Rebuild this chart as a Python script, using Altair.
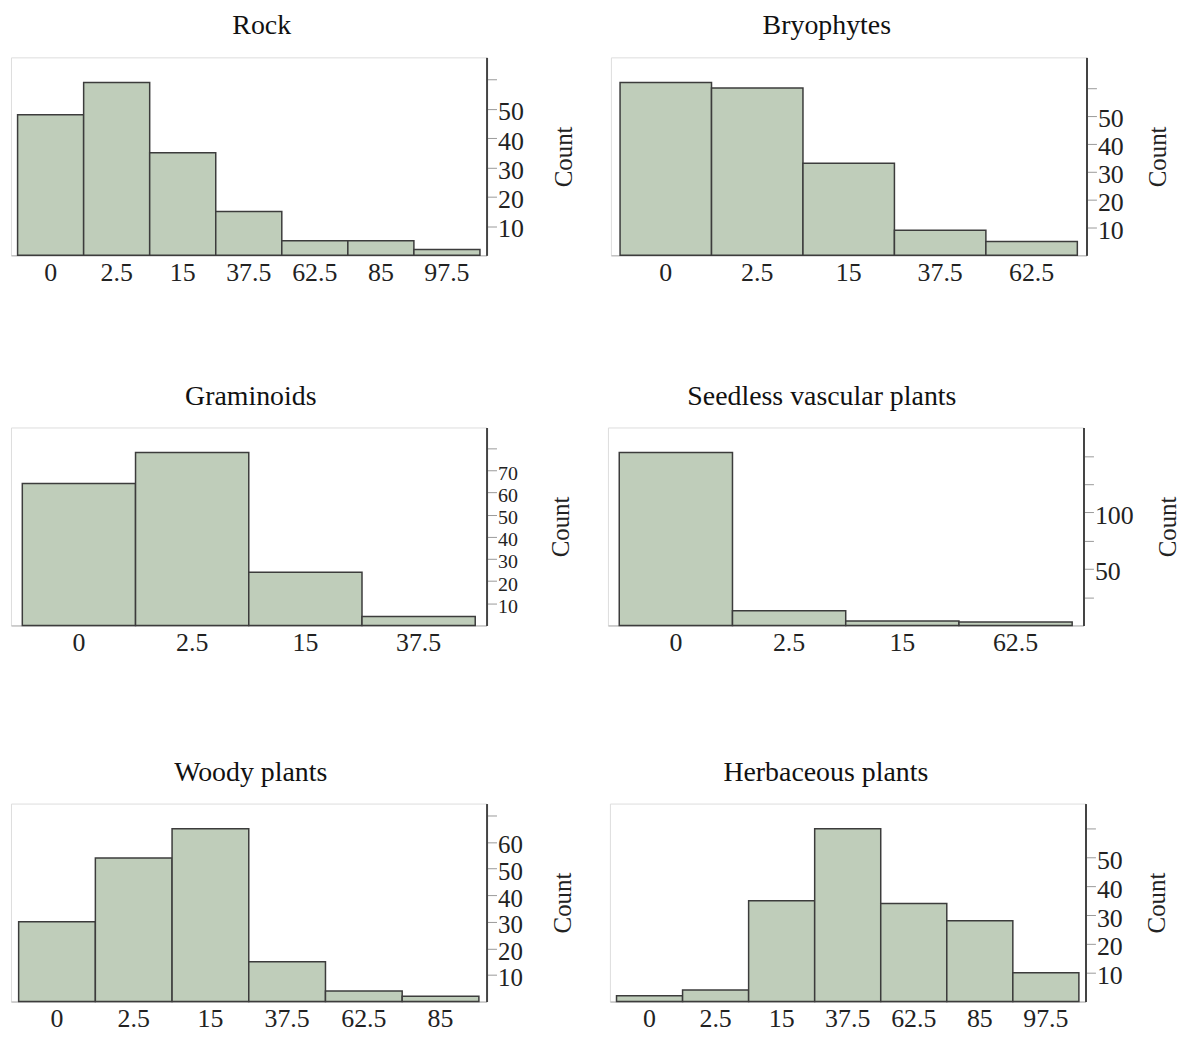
import altair as alt
import pandas as pd

# ---- data ----
rock_bins = ["0", "2.5", "15", "37.5", "62.5", "85", "97.5"]
rock_counts = [48, 59, 35, 15, 5, 5, 2]

bryo_bins = ["0", "2.5", "15", "37.5", "62.5"]
bryo_counts = [62, 60, 33, 9, 5]

gram_bins = ["0", "2.5", "15", "37.5"]
gram_counts = [64, 78, 24, 4]

seed_bins = ["0", "2.5", "15", "62.5"]
seed_counts = [153, 13, 4, 3]

woody_bins = ["0", "2.5", "15", "37.5", "62.5", "85"]
woody_counts = [30, 54, 65, 15, 4, 2]

herb_bins = ["0", "2.5", "15", "37.5", "62.5", "85", "97.5"]
herb_counts = [2, 4, 35, 60, 34, 28, 10]

# y-axis ticks (all ticks) and the subset that carries a label
rock_ticks, rock_labels = [10, 20, 30, 40, 50, 60], [10, 20, 30, 40, 50]
bryo_ticks, bryo_labels = [10, 20, 30, 40, 50, 60], [10, 20, 30, 40, 50]
gram_ticks, gram_labels = [10, 20, 30, 40, 50, 60, 70, 80], [10, 20, 30, 40, 50, 60, 70]
seed_ticks, seed_labels = [25, 50, 75, 100, 125, 150], [50, 100]
woody_ticks, woody_labels = [10, 20, 30, 40, 50, 60, 70], [10, 20, 30, 40, 50, 60]
herb_ticks, herb_labels = [10, 20, 30, 40, 50, 60], [10, 20, 30, 40, 50]

FONT = "Liberation Serif"
FILL = "#bfcdba"
W, H = 478, 199


def panel(title, bins, counts, ticks, labels, dx=0, ylab=26, tpad=28):
    df = pd.DataFrame({"bin": bins, "count": counts})
    top = max(counts) * 1.145
    expr = "indexof(" + str(labels) + ", datum.value) >= 0 ? datum.label : ''"
    return (
        alt.Chart(df)
        .mark_bar(fill=FILL, stroke="#3c3c3c", strokeWidth=1.5)
        .encode(
            x=alt.X(
                "bin:N",
                sort=bins,
                scale=alt.Scale(paddingInner=0, paddingOuter=0.1),
                axis=alt.Axis(
                    title=None,
                    labelAngle=0,
                    ticks=False,
                    domainColor="#b0b0b0",
                    labelFont=FONT,
                    labelFontSize=26,
                    labelColor="#222222",
                    labelPadding=4,
                    labelOverlap=False,
                ),
            ),
            y=alt.Y(
                "count:Q",
                scale=alt.Scale(domain=[0, top], nice=False),
                axis=alt.Axis(
                    orient="right",
                    title="Count",
                    titleAngle=270,
                    titleBaseline="top",
                    titleFont=FONT,
                    titleFontSize=25,
                    titleFontWeight="normal",
                    titleColor="#222222",
                    titlePadding=tpad,
                    values=ticks,
                    labelExpr=expr,
                    labelFont=FONT,
                    labelFontSize=ylab,
                    labelColor="#222222",
                    labelPadding=1,
                    labelOffset=3,
                    labelOverlap=False,
                    labelBound=False,
                    grid=False,
                    domainColor="#444444",
                    domainWidth=2,
                    tickColor="#999999",
                    tickSize=10,
                ),
            ),
        )
        .properties(
            width=W,
            height=H,
            title=alt.TitleParams(
                title, font=FONT, fontSize=28, fontWeight="normal",
                color="#111111", offset=17, dx=dx,
            ),
        )
    )


row1 = alt.hconcat(
    panel("Rock", rock_bins, rock_counts, rock_ticks, rock_labels, dx=13),
    panel("Bryophytes", bryo_bins, bryo_counts, bryo_ticks, bryo_labels, dx=-22, tpad=22),
    spacing=33,
)
row2 = alt.hconcat(
    panel("Graminoids", gram_bins, gram_counts, gram_ticks, gram_labels, dx=2, ylab=20, tpad=31),
    panel("Seedless vascular plants", seed_bins, seed_counts, seed_ticks, seed_labels, dx=-24, tpad=22),
    spacing=33,
)
row3 = alt.hconcat(
    panel("Woody plants", woody_bins, woody_counts, woody_ticks, woody_labels, dx=2, ylab=25),
    panel("Herbaceous plants", herb_bins, herb_counts, herb_ticks, herb_labels, dx=-22, tpad=22),
    spacing=33,
)

top_rows = alt.vconcat(row1, row2, spacing=96)
chart = (
    alt.vconcat(top_rows, row3, spacing=102)
    .properties(padding={"left": 2, "top": 1, "right": 0, "bottom": 0})
    .configure_view(stroke="#c4c4c4", strokeWidth=1.5)
    .configure(background="white")
)

chart.save("out.html", embed_options={"renderer": "svg", "actions": False})
